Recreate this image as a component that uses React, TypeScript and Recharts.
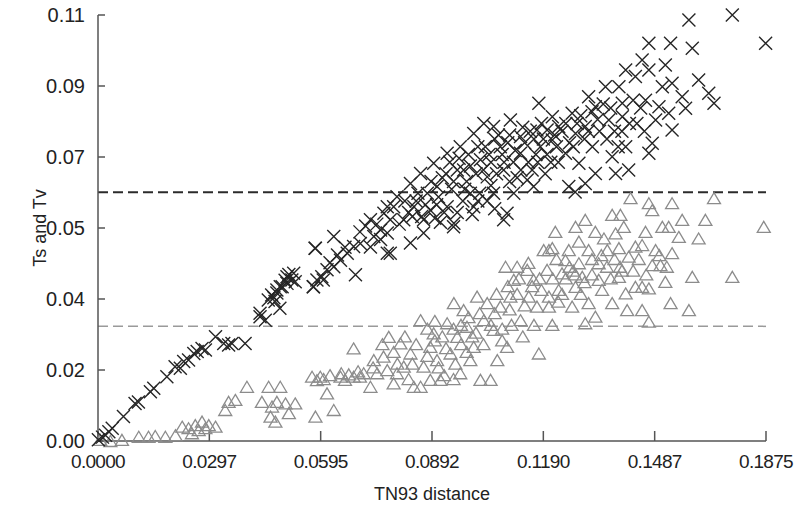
import React from "react";
import {
  ScatterChart,
  Scatter,
  XAxis,
  YAxis,
  ReferenceLine,
} from "recharts";

// Ts (transitions) points: [TN93 distance, Ts]
const tsPoints: [number, number][] = [
  [0.0001, 0.0003], [0.0012, 0.001], [0.002, 0.0015], [0.0029, 0.0024], [0.0038, 0.0033],
  [0.0068, 0.0063], [0.0099, 0.0097], [0.0108, 0.0101], [0.014, 0.0127], [0.0149, 0.0136],
  [0.0184, 0.0166], [0.0206, 0.0192], [0.022, 0.0188], [0.0229, 0.0205], [0.0242, 0.0209],
  [0.0256, 0.0226], [0.0265, 0.0231], [0.0278, 0.0239], [0.0287, 0.0235], [0.0314, 0.0269],
  [0.0336, 0.0252], [0.0349, 0.0248], [0.0358, 0.0252], [0.0393, 0.0252], [0.0433, 0.0321],
  [0.0447, 0.0312], [0.0455, 0.0364], [0.0464, 0.0377], [0.0478, 0.039], [0.0492, 0.0398],
  [0.0505, 0.0407], [0.0518, 0.0416], [0.0527, 0.0411], [0.0486, 0.0343], [0.0473, 0.036],
  [0.058, 0.0498], [0.0575, 0.0398], [0.0598, 0.0424], [0.0433, 0.033], [0.0478, 0.0382],
  [0.0487, 0.0398], [0.0505, 0.0424], [0.0523, 0.0433], [0.0576, 0.0398], [0.0585, 0.0416],
  [0.0581, 0.0498], [0.0612, 0.0442], [0.063, 0.045], [0.063, 0.0528], [0.0648, 0.0467],
  [0.0666, 0.0485], [0.0683, 0.0502], [0.0688, 0.0429], [0.0701, 0.051], [0.0728, 0.0571],
  [0.0737, 0.0528], [0.0755, 0.0545], [0.0764, 0.0588], [0.0773, 0.0485], [0.0781, 0.0571],
  [0.079, 0.0605], [0.0799, 0.0631], [0.0602, 0.0416], [0.0728, 0.0501], [0.0781, 0.0485],
  [0.0835, 0.0511], [0.095, 0.0553], [0.0773, 0.0537], [0.087, 0.0537], [0.1084, 0.0571],
  [0.0773, 0.0605], [0.0835, 0.0665], [0.0862, 0.0691], [0.0897, 0.0717], [0.0933, 0.0743],
  [0.0968, 0.076], [0.1004, 0.0794], [0.1031, 0.082], [0.1057, 0.0812], [0.1102, 0.0829],
  [0.1178, 0.0872], [0.1173, 0.0803], [0.1093, 0.0588], [0.0951, 0.0562], [0.0888, 0.0596],
  [0.0995, 0.064], [0.104, 0.0682], [0.1084, 0.07], [0.1129, 0.0743], [0.1147, 0.0674],
  [0.12, 0.0803], [0.0844, 0.0605], [0.0906, 0.0657], [0.0977, 0.07], [0.1022, 0.0726],
  [0.1075, 0.076], [0.1129, 0.0786], [0.1182, 0.076], [0.0933, 0.0605], [0.1004, 0.0605],
  [0.1057, 0.064], [0.1111, 0.064], [0.1164, 0.0657], [0.087, 0.0571], [0.0817, 0.0571],
  [0.085, 0.062], [0.088, 0.064], [0.0905, 0.061], [0.092, 0.068], [0.0945, 0.065],
  [0.096, 0.07], [0.0985, 0.067], [0.101, 0.069], [0.102, 0.064], [0.105, 0.072],
  [0.1065, 0.069], [0.108, 0.074], [0.1095, 0.077], [0.111, 0.072], [0.114, 0.077],
  [0.1155, 0.08], [0.117, 0.074], [0.119, 0.078], [0.121, 0.072], [0.1225, 0.076],
  [0.124, 0.08], [0.126, 0.077], [0.128, 0.082], [0.13, 0.078], [0.132, 0.085],
  [0.134, 0.08], [0.135, 0.087], [0.138, 0.08], [0.139, 0.076], [0.142, 0.082],
  [0.143, 0.088], [0.145, 0.086], [0.083, 0.059], [0.0865, 0.058], [0.09, 0.0575],
  [0.0925, 0.059], [0.0975, 0.062], [0.1, 0.0585], [0.104, 0.062], [0.106, 0.06],
  [0.112, 0.068], [0.116, 0.07], [0.1195, 0.069], [0.123, 0.072], [0.094, 0.072],
  [0.099, 0.074], [0.1035, 0.076], [0.107, 0.079], [0.1275, 0.0643],
  [0.0805, 0.056], [0.082, 0.062], [0.084, 0.058], [0.0855, 0.064], [0.0875, 0.061],
  [0.089, 0.067], [0.091, 0.063], [0.093, 0.069], [0.095, 0.067], [0.0965, 0.073],
  [0.098, 0.065], [0.0995, 0.071], [0.1015, 0.076], [0.103, 0.07], [0.1045, 0.074],
  [0.106, 0.078], [0.1085, 0.072], [0.11, 0.079], [0.1115, 0.075], [0.1135, 0.081],
  [0.115, 0.072], [0.1165, 0.078], [0.1185, 0.082], [0.12, 0.074], [0.122, 0.079],
  [0.125, 0.082], [0.127, 0.076], [0.129, 0.084], [0.131, 0.08], [0.1335, 0.083],
  [0.136, 0.078], [0.137, 0.086], [0.14, 0.08], [0.144, 0.082], [0.146, 0.08],
  [0.0915, 0.0565], [0.096, 0.059], [0.1015, 0.062], [0.105, 0.066], [0.11, 0.067],
  [0.113, 0.07], [0.1175, 0.072], [0.07, 0.054], [0.0715, 0.0555], [0.0745, 0.056],
  [0.0755, 0.052], [0.066, 0.05], [0.064, 0.048], [0.062, 0.046], [0.05, 0.0415],
  [0.051, 0.043], [0.047, 0.037],
  [0.1579, 0.1087], [0.1695, 0.11], [0.1784, 0.1027], [0.1472, 0.1027], [0.153, 0.1027],
  [0.1588, 0.1014], [0.1454, 0.0984], [0.1516, 0.0971], [0.141, 0.0958], [0.1436, 0.0941],
  [0.1472, 0.0958], [0.1605, 0.0932], [0.1632, 0.0898], [0.1646, 0.0872], [0.1561, 0.0889],
  [0.157, 0.0859], [0.1534, 0.0924], [0.1508, 0.0915], [0.1311, 0.0889], [0.1356, 0.0915],
  [0.1392, 0.0915], [0.1401, 0.0872], [0.1329, 0.0863], [0.1463, 0.088], [0.1499, 0.0863],
  [0.1525, 0.0846], [0.149, 0.0829], [0.1534, 0.0803], [0.1481, 0.0769], [0.1472, 0.0743],
  [0.1418, 0.07], [0.1383, 0.0691], [0.1329, 0.0691], [0.1285, 0.0717], [0.1249, 0.0743],
  [0.1214, 0.0777], [0.1231, 0.0812], [0.1276, 0.0794], [0.1321, 0.076], [0.1374, 0.0734],
  [0.141, 0.076], [0.1401, 0.0837], [0.1365, 0.0829], [0.1302, 0.0812], [0.1267, 0.0846],
  [0.1214, 0.0837], [0.1302, 0.0665], [0.1258, 0.0657],
];

// Tv (transversions) points: [TN93 distance, Tv]
const tvPoints: [number, number][] = [
  [0.0006, 0.0003], [0.0033, 0.0], [0.0064, 0.0003], [0.0109, 0.0011], [0.0135, 0.0011],
  [0.0153, 0.0013], [0.018, 0.0011], [0.0207, 0.0015], [0.0225, 0.0037], [0.0242, 0.0033],
  [0.026, 0.0041], [0.0278, 0.005], [0.0296, 0.0041], [0.0314, 0.0037], [0.0251, 0.002],
  [0.0269, 0.0028], [0.0287, 0.0033], [0.034, 0.008], [0.0349, 0.0101], [0.0367, 0.0106],
  [0.0398, 0.014], [0.0438, 0.0101], [0.0456, 0.014], [0.0465, 0.0089], [0.0478, 0.0101],
  [0.0487, 0.014], [0.0501, 0.0097], [0.051, 0.0072], [0.0527, 0.0097], [0.0474, 0.005],
  [0.0461, 0.0063], [0.0572, 0.0166], [0.0585, 0.0157], [0.0581, 0.0063],
  [0.0594, 0.0166], [0.0612, 0.0123], [0.063, 0.008], [0.0648, 0.0166], [0.0683, 0.0166],
  [0.0683, 0.0239], [0.0728, 0.014], [0.0737, 0.0209], [0.0763, 0.0218], [0.0777, 0.0269],
  [0.079, 0.0149], [0.0808, 0.0252], [0.0817, 0.0192], [0.0835, 0.0226], [0.0844, 0.014],
  [0.0862, 0.0312], [0.087, 0.0192], [0.0888, 0.0243], [0.0897, 0.0278], [0.0906, 0.0209],
  [0.0915, 0.0158], [0.0933, 0.0304], [0.0942, 0.0226], [0.0951, 0.0356], [0.096, 0.0269],
  [0.0977, 0.0338], [0.0986, 0.0295], [0.0995, 0.0209], [0.1004, 0.0243], [0.1013, 0.0373],
  [0.1022, 0.0158], [0.1031, 0.0312], [0.104, 0.0356], [0.1049, 0.0158], [0.1057, 0.0287],
  [0.1067, 0.0209], [0.1075, 0.0347], [0.1089, 0.045], [0.1093, 0.0243], [0.1102, 0.0373],
  [0.1111, 0.0416], [0.112, 0.045], [0.1129, 0.0312], [0.1147, 0.0442], [0.1151, 0.0373],
  [0.1164, 0.0416], [0.1173, 0.0347], [0.1178, 0.0226], [0.1191, 0.0493], [0.12, 0.0442],
  [0.1205, 0.0373], [0.0862, 0.014], [0.0773, 0.0183], [0.0746, 0.0175], [0.071, 0.0175],
  [0.0799, 0.0175], [0.0888, 0.0158], [0.0968, 0.0175],
  [0.0603, 0.016], [0.062, 0.017], [0.066, 0.0158], [0.067, 0.0172], [0.07, 0.0166],
  [0.088, 0.029], [0.09, 0.031], [0.092, 0.027], [0.095, 0.029], [0.097, 0.025],
  [0.099, 0.032], [0.101, 0.028], [0.106, 0.033], [0.108, 0.029], [0.11, 0.034],
  [0.112, 0.038], [0.114, 0.035], [0.116, 0.04], [0.118, 0.042], [0.123, 0.036],
  [0.125, 0.042], [0.127, 0.044], [0.13, 0.041], [0.132, 0.047], [0.136, 0.045],
  [0.138, 0.047], [0.14, 0.044],
  [0.076, 0.025], [0.079, 0.023], [0.082, 0.027], [0.084, 0.02], [0.085, 0.025],
  [0.088, 0.022], [0.09, 0.026], [0.091, 0.019], [0.093, 0.024], [0.0955, 0.02],
  [0.097, 0.03], [0.0985, 0.023], [0.1, 0.027], [0.102, 0.033], [0.103, 0.025],
  [0.105, 0.03], [0.1065, 0.038], [0.108, 0.026], [0.1095, 0.04], [0.1105, 0.03],
  [0.1125, 0.042], [0.1135, 0.027], [0.115, 0.046], [0.1165, 0.03], [0.1185, 0.039],
  [0.1215, 0.042], [0.1225, 0.047], [0.124, 0.038], [0.126, 0.045], [0.1275, 0.043],
  [0.129, 0.038], [0.132, 0.043], [0.1345, 0.048], [0.137, 0.042], [0.1395, 0.045],
  [0.143, 0.044], [0.1445, 0.047], [0.1465, 0.043], [0.15, 0.048], [0.152, 0.045],
  [0.08, 0.02], [0.083, 0.016], [0.0735, 0.019], [0.0695, 0.018], [0.065, 0.0175],
  [0.0925, 0.017], [0.095, 0.016],
  [0.1423, 0.0627], [0.1472, 0.0614], [0.1481, 0.0596], [0.1534, 0.0614], [0.1646, 0.0627],
  [0.1779, 0.0553], [0.1302, 0.0571], [0.1276, 0.0553], [0.1222, 0.054], [0.1374, 0.0584],
  [0.1396, 0.0584], [0.1329, 0.054], [0.1561, 0.0571], [0.1623, 0.0571], [0.1405, 0.0553],
  [0.1508, 0.0553], [0.1525, 0.0553], [0.1463, 0.054], [0.1552, 0.0527], [0.1605, 0.0523],
  [0.1352, 0.0523], [0.1383, 0.0536], [0.1285, 0.0515], [0.1214, 0.0498], [0.1249, 0.0467],
  [0.1311, 0.0493], [0.1361, 0.0493], [0.1392, 0.0498], [0.1436, 0.0502], [0.1454, 0.0506],
  [0.149, 0.0493], [0.1534, 0.0485], [0.1503, 0.0454], [0.1481, 0.0454], [0.1418, 0.0476],
  [0.1588, 0.0424], [0.1695, 0.0424], [0.1516, 0.0411], [0.1454, 0.0398], [0.141, 0.0381],
  [0.1472, 0.0394], [0.1374, 0.0356], [0.1414, 0.0338], [0.1454, 0.0338], [0.153, 0.0356],
  [0.1579, 0.0338], [0.1472, 0.0308], [0.1329, 0.0321], [0.1302, 0.0304], [0.1311, 0.0356],
  [0.1267, 0.0347], [0.1214, 0.03], [0.1205, 0.0347], [0.124, 0.0433], [0.1294, 0.0424],
  [0.1338, 0.0416], [0.1392, 0.0424], [0.1436, 0.0398], [0.1276, 0.0398], [0.1231, 0.039],
  [0.1347, 0.039], [0.1285, 0.0459], [0.1338, 0.0459], [0.1205, 0.0493], [0.1258, 0.0493],
];

const tsThreshold = 0.0642;
const tvThreshold = 0.0296;

const xTicks = [0, 0.02975, 0.0595, 0.08925, 0.119, 0.14875, 0.1785];
const xTickLabels = ["0.0000", "0.0297", "0.0595", "0.0892", "0.1190", "0.1487", "0.1875"];
const yTicks = [0, 0.018333, 0.036667, 0.055, 0.073333, 0.091667, 0.11];
const yTickLabels = ["0.00", "0.02", "0.04", "0.05", "0.07", "0.09", "0.11"];

const tsData = tsPoints.map(([x, y]) => ({ x, y }));
const tvData = tvPoints.map(([x, y]) => ({ x, y }));

const font = "'Liberation Sans', Arial, Helvetica, sans-serif";

const CrossShape = (props: any) => {
  const { cx, cy } = props;
  const r = 6.5;
  return (
    <path
      d={`M${cx - r},${cy - r}L${cx + r},${cy + r}M${cx - r},${cy + r}L${cx + r},${cy - r}`}
      stroke="#262626"
      strokeWidth={1.4}
      fill="none"
    />
  );
};

const TriangleShape = (props: any) => {
  const { cx, cy } = props;
  return (
    <path
      d={`M${cx},${cy - 5.5}L${cx + 6.5},${cy + 5.5}L${cx - 6.5},${cy + 5.5}Z`}
      stroke="#8c8c8c"
      strokeWidth={1.3}
      fill="none"
    />
  );
};

const App = () => {
  return (
    <div style={{ position: "absolute", left: 0, top: 0, background: "#fff" }}>
      <ScatterChart
        width={794}
        height={506}
        margin={{ top: 15, right: 28, bottom: 0, left: 0 }}
      >
        <XAxis
          type="number"
          dataKey="x"
          domain={[0, 0.1785]}
          ticks={xTicks}
          interval={0}
          tickFormatter={(v: number, i: number) => xTickLabels[i]}
          height={65}
          stroke="#555"
          strokeWidth={1.5}
          tickSize={-10}
          tickMargin={24}
          tick={{ fill: "#222", fontSize: 19, fontFamily: font, letterSpacing: -0.7 }}
          label={{
            value: "TN93 distance",
            position: "insideBottom",
            offset: 6,
            style: { fill: "#222", fontSize: 18, fontFamily: font },
          }}
        />
        <YAxis
          type="number"
          dataKey="y"
          domain={[0, 0.11]}
          ticks={yTicks}
          interval={0}
          tickFormatter={(v: number, i: number) => yTickLabels[i]}
          width={98}
          stroke="#555"
          strokeWidth={1.5}
          tickSize={-7}
          tickMargin={20}
          tick={{ fill: "#222", fontSize: 20, fontFamily: font }}
          label={{
            value: "Ts and Tv",
            angle: -90,
            position: "insideLeft",
            offset: 40,
            style: { fill: "#222", fontSize: 18, fontFamily: font, textAnchor: "middle" },
          }}
        />
        <ReferenceLine y={tsThreshold} stroke="#2b2b2b" strokeWidth={2} strokeDasharray="10 5" />
        <ReferenceLine y={tvThreshold} stroke="#9a9a9a" strokeWidth={1.5} strokeDasharray="10 5" />
        <Scatter data={tvData} shape={TriangleShape} isAnimationActive={false} />
        <Scatter data={tsData} shape={CrossShape} isAnimationActive={false} />
      </ScatterChart>
    </div>
  );
};

export default App;
